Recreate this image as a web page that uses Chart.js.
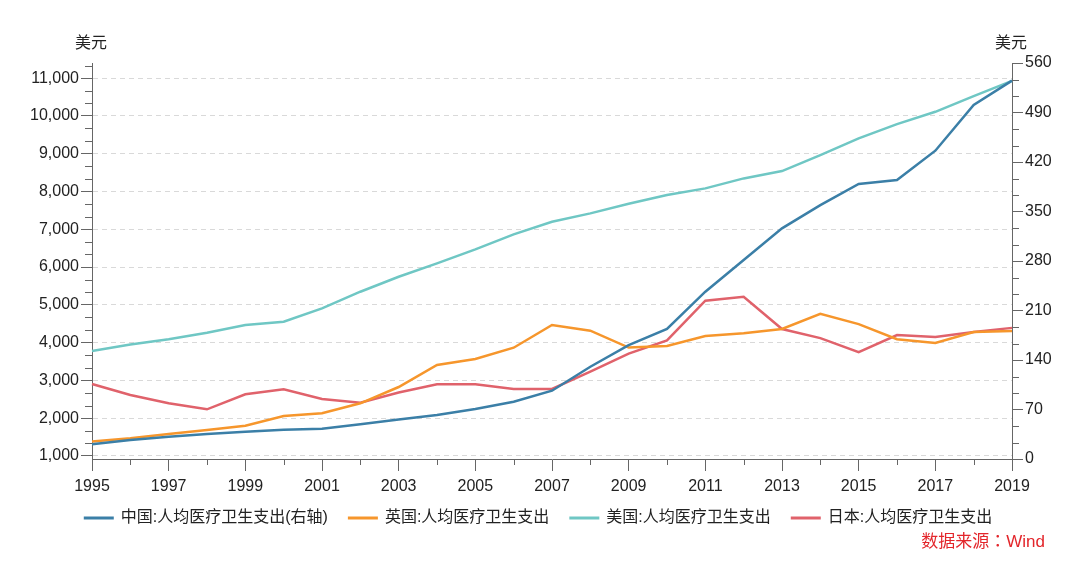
<!DOCTYPE html>
<html><head><meta charset="utf-8">
<script src="https://cdn.jsdelivr.net/npm/chart.js@4"></script>
<style>html,body{margin:0;padding:0;background:#fff}canvas{display:block}</style>
</head><body>
<canvas id="c" width="1080" height="563"></canvas>
<script>
const years = ['1995','1996','1997','1998','1999','2000','2001','2002','2003','2004','2005','2006','2007','2008','2009','2010','2011','2012','2013','2014','2015','2016','2017','2018','2019'];
const chinaRight = [20.8,26.9,31.6,35.4,38.6,41.5,42.9,49,56,62.2,70.7,81,96.6,130.5,161,184,236.6,281.4,326.2,359,388.9,394.5,436,500.6,535];
const uk = [1380,1468,1582,1688,1802,2058,2130,2394,2825,3407,3566,3865,4466,4315,3870,3910,4175,4250,4360,4760,4490,4090,3990,4280,4310];
const us = [3778,3950,4087,4262,4466,4553,4907,5347,5744,6098,6468,6865,7198,7420,7676,7905,8082,8346,8540,8963,9404,9783,10109,10524,10929];
const japan = [2905,2614,2394,2235,2632,2765,2508,2410,2680,2896,2896,2773,2773,3231,3710,4060,5108,5214,4360,4120,3750,4200,4150,4280,4390];
const seriesNames = ['中国:人均医疗卫生支出(右轴)','英国:人均医疗卫生支出','美国:人均医疗卫生支出','日本:人均医疗卫生支出'];
const leftTicks = [1000,2000,3000,4000,5000,6000,7000,8000,9000,10000,11000];
const rightTicks = [0,70,140,210,280,350,420,490,560];
const unitLabel = '美元';
const sourceLabel = '数据来源：Wind';

const colors = ['#3b7fa7','#f6962c','#6fc7c4','#e0626b'];
const axisColor = '#666';
const textColor = '#222';
const FONT = "'Liberation Sans','Noto Sans CJK SC',sans-serif";
Chart.defaults.font.family = FONT;
Chart.defaults.font.size = 16;
Chart.defaults.color = textColor;

const extras = {
  id: 'extras',
  afterDraw(chart) {
    const ctx = chart.ctx;
    const L = chart.scales.y, R = chart.scales.y1, X = chart.scales.x;
    ctx.save();
    ctx.setLineDash([]);
    ctx.strokeStyle = axisColor; ctx.lineWidth = 1;
    ctx.beginPath();
    const ls = (leftTicks[1] - leftTicks[0]) / 3;
    for (let k = 1; leftTicks[0] + k * ls <= L.max + 1e-6; k++) {
      if (k % 3 === 0) continue;
      const py = Math.round(L.getPixelForValue(leftTicks[0] + k * ls)) + 0.5;
      ctx.moveTo(L.right - 7, py); ctx.lineTo(L.right, py);
    }
    const rs = (rightTicks[1] - rightTicks[0]) / 3;
    for (let k = 1; rightTicks[0] + k * rs <= R.max + 1e-6; k++) {
      if (k % 3 === 0) continue;
      const py = Math.round(R.getPixelForValue(rightTicks[0] + k * rs)) + 0.5;
      ctx.moveTo(R.left, py); ctx.lineTo(R.left + 7, py);
    }
    years.forEach((yr, i) => {
      if (parseInt(yr) % 2 === 1) return;
      const px = Math.round(X.getPixelForValue(i)) + 0.5;
      ctx.moveTo(px, X.top); ctx.lineTo(px, X.top + 6);
    });
    ctx.stroke();

    ctx.fillStyle = textColor;
    ctx.font = '16px ' + FONT;
    ctx.textAlign = 'center'; ctx.textBaseline = 'middle';
    ctx.fillText(unitLabel, L.right - 1, 44);
    ctx.fillText(unitLabel, R.left - 1, 44);

    const ds = chart.data.datasets;
    ctx.font = '16px ' + FONT;
    const lineW = 30, g1 = 7, g2 = 20;
    const widths = ds.map(d => ctx.measureText(d.label).width);
    const total = widths.reduce((a, w) => a + lineW + g1 + w, 0) + g2 * (ds.length - 1);
    let sx = 538 - total / 2;
    const ly = 518;
    ctx.textAlign = 'left';
    ds.forEach((d, i) => {
      ctx.strokeStyle = d.borderColor; ctx.lineWidth = 3;
      ctx.beginPath(); ctx.moveTo(sx, ly); ctx.lineTo(sx + lineW, ly); ctx.stroke();
      ctx.fillStyle = textColor;
      ctx.fillText(d.label, sx + lineW + g1, ly);
      sx += lineW + g1 + widths[i] + g2;
    });

    ctx.fillStyle = '#e3262b';
    ctx.font = "17px 'Liberation Sans','Noto Sans CJK TC',sans-serif";
    ctx.textAlign = 'right';
    ctx.fillText(sourceLabel, 1045, 542);
    ctx.restore();
  }
};

new Chart(document.getElementById('c'), {
  type: 'line',
  data: {
    labels: years,
    datasets: [
      { label: seriesNames[0], data: chinaRight, yAxisID: 'y1', borderColor: colors[0] },
      { label: seriesNames[1], data: uk, yAxisID: 'y', borderColor: colors[1] },
      { label: seriesNames[2], data: us, yAxisID: 'y', borderColor: colors[2] },
      { label: seriesNames[3], data: japan, yAxisID: 'y', borderColor: colors[3] }
    ].map(d => Object.assign(d, { borderWidth: 2.5, pointRadius: 0, pointHoverRadius: 0, tension: 0, fill: false, backgroundColor: d.borderColor }))
  },
  options: {
    responsive: false,
    animation: false,
    layout: { padding: { left: 0, right: 0, top: 63, bottom: 64 } },
    plugins: { legend: { display: false }, tooltip: { enabled: false } },
    scales: {
      x: {
        type: 'category',
        offset: false,
        grid: { drawOnChartArea: false, offset: false, tickLength: 12,
          tickColor: c => (parseInt(years[c.index]) % 2 === 1 ? axisColor : 'rgba(0,0,0,0)'), color: axisColor },
        border: { color: axisColor, width: 1 },
        ticks: { autoSkip: false, maxRotation: 0, padding: 6, color: textColor, font: { size: 16 },
          callback: (v, i) => (parseInt(years[i]) % 2 === 1 ? years[i] : '') },
        afterFit: s => { s.height = 40; }
      },
      y: {
        type: 'linear', position: 'left', min: 920, max: 11400,
        afterBuildTicks: s => { s.ticks = leftTicks.map(v => ({ value: v })); },
        grid: { color: '#d9d9d9', tickColor: axisColor, tickLength: 11, drawTicks: true, tickBorderDash: [] },
        border: { color: axisColor, width: 1, dash: [5, 4] },
        ticks: { padding: 2, color: textColor, font: { size: 16 }, callback: v => v.toLocaleString('en-US') },
        afterFit: s => { s.width = 92; }
      },
      y1: {
        type: 'linear', position: 'right', min: 0, max: 560,
        afterBuildTicks: s => { s.ticks = rightTicks.map(v => ({ value: v })); },
        grid: { drawOnChartArea: false, tickColor: axisColor, tickLength: 11 },
        border: { color: axisColor, width: 1 },
        ticks: { padding: 2, color: textColor, font: { size: 16 }, callback: v => String(v) },
        afterFit: s => { s.width = 68; }
      }
    }
  },
  plugins: [extras]
});
</script>
</body></html>
